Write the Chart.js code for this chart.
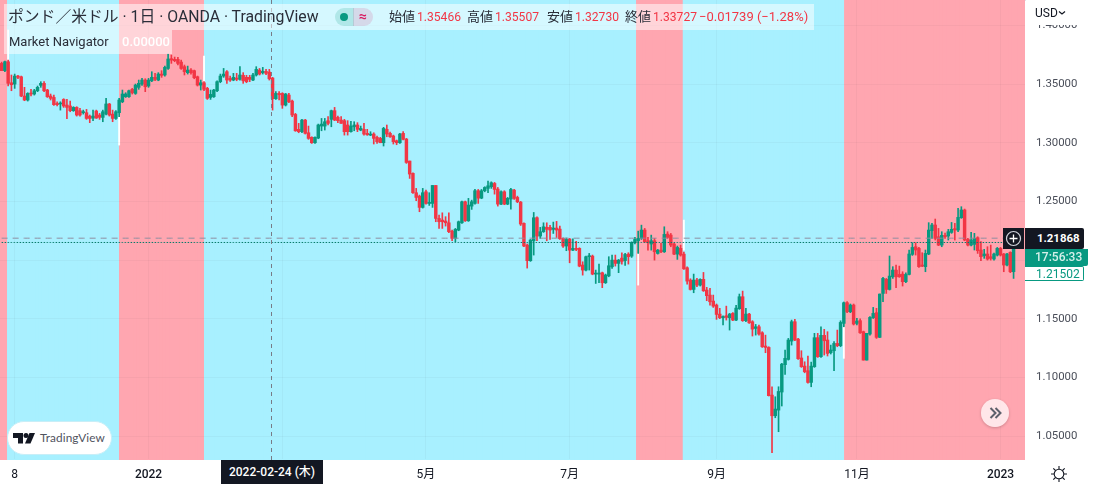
<!DOCTYPE html>
<html lang="ja"><head><meta charset="utf-8">
<script src="https://cdn.jsdelivr.net/npm/chart.js@4"></script>
<style>
html,body{margin:0;padding:0;background:#fff;overflow:hidden}
#wrap{position:relative;width:1093px;height:488px;font-family:Roboto,"Noto Sans CJK JP",sans-serif;color:#131722}
canvas{position:absolute;left:0;top:0}
.o{position:absolute;white-space:nowrap;box-sizing:border-box}
.r{color:#f23645;font-size:12.1px;margin-left:2px}
.h{top:4px;height:26px;line-height:26px;font-size:13px;font-family:Roboto,'Noto Sans CJK JP',sans-serif;color:#2a2e39}
</style></head><body>
<div id="wrap"><canvas id="c" width="1093" height="488"></canvas>
<div class="o" style="left:4px;top:4px;width:810px;height:26px;background:rgba(255,255,255,.52)"></div>
<div class="o" style="left:4px;top:30px;width:168px;height:24px;background:rgba(255,255,255,.52)"></div>
<div class="o" style="left:8px;top:4px;height:26px;line-height:25px;font-size:15.8px;font-family:Roboto,'Noto Sans CJK JP',sans-serif;color:#2a2e39">ポンド／米ドル · 1日 · OANDA · TradingView</div>
<div class="o" style="left:335px;top:8px;width:19px;height:18px;border-radius:9px 0 0 9px;background:rgba(8,153,129,.18)"><div class="o" style="left:5px;top:5px;width:8px;height:8px;border-radius:4px;background:#089981"></div></div>
<div class="o" style="left:353px;top:8px;width:20px;height:18px;border-radius:0 9px 9px 0;background:rgba(216,27,96,.14);color:#d81b60;font-size:14px;line-height:17px;text-align:center;font-weight:700">≈</div>
<div class="o h" style="left:389px">始値<span class="r">1.35466</span></div>
<div class="o h" style="left:467px">高値<span class="r">1.35507</span></div>
<div class="o h" style="left:547px">安値<span class="r">1.32730</span></div>
<div class="o h" style="left:625px">終値<span class="r">1.33727</span></div>
<div class="o" style="left:699px;top:4px;height:26px;line-height:26px;font-size:13px;color:#f23645">−0.01739 (−1.28%)</div>
<div class="o" style="left:9px;top:30px;height:24px;line-height:24px;font-size:13px;color:#2a2e39">Market Navigator</div>
<div class="o" style="left:122px;top:30px;height:24px;line-height:24px;font-size:13px;font-weight:500;color:#fff">0.00000</div>

<div class="o" style="left:1026px;top:0;width:67px;height:25px;background:#fff"></div>
<div class="o" style="left:1035px;top:5px;height:16px;line-height:16px;font-size:12px;color:#131722">USD</div>
<svg class="o" style="left:1058px;top:10px" width="8" height="6"><path d="M1 1.5l3 2.5 3-2.5" fill="none" stroke="#131722" stroke-width="1.2"/></svg>

<div class="o" style="left:1003px;top:228px;width:21px;height:21px;background:#131722"></div>
<svg class="o" style="left:1003px;top:228px" width="21" height="21"><circle cx="10.5" cy="10.5" r="7" fill="none" stroke="#d1d4dc" stroke-width="1.2"/><path d="M10.5 6.5v8M6.5 10.5h8" stroke="#fff" stroke-width="1.3"/></svg>
<div class="o" style="left:1025px;top:228px;width:59px;height:21px;line-height:21px;padding-left:12px;background:#131722;color:#fff;font-size:11.4px;font-weight:700;border-radius:0 2px 2px 0">1.21868</div>
<div class="o" style="left:1025px;top:249px;width:63px;height:17px;line-height:17px;padding-left:10px;background:#089981;color:#d6f0ea;font-size:12px;font-weight:500;border-radius:0 0 2px 0">17:56:33</div>
<div class="o" style="left:1025px;top:266px;width:59px;height:15px;line-height:14px;padding-left:11px;background:#fff;color:#089981;font-size:12px;border:1px solid #089981;border-left:0;border-radius:0 2px 2px 0">1.21502</div>

<div class="o" style="left:221px;top:460px;width:102px;height:24px;line-height:25px;background:#131722;color:#fff;font-size:12px;font-weight:500;text-align:center;font-family:Roboto,'Noto Sans CJK JP',sans-serif">2022-02-24 (木)</div>

<div class="o" style="left:7px;top:421px;width:105px;height:34px;background:#fff;border:1px solid #c8eef7;border-radius:17px"></div>
<svg class="o" style="left:13px;top:433px" width="22" height="12"><path d="M0 0h10v10.500h-5v-5.500h-5z" fill="#131722"/><circle cx="13" cy="2.500" r="2.500" fill="#131722"/><path d="M16.500 0h5.500l-4.500 10.500h-5.500z" fill="#131722"/></svg>
<div class="o" style="left:40px;top:430px;height:16px;line-height:16px;font-size:11.8px;color:#50535e;letter-spacing:.1px;font-family:Lato,Roboto,sans-serif">TradingView</div>

<div class="o" style="left:981px;top:399px;width:28px;height:28px;border-radius:14px;background:rgba(255,255,255,.72);box-shadow:0 1px 3px rgba(0,0,0,.2)"></div>
<svg class="o" style="left:981px;top:399px" width="28" height="28"><path d="M9.500 9l5 5-5 5M14.500 9l5 5-5 5" fill="none" stroke="#5d606b" stroke-width="2"/></svg>

<svg class="o" style="left:1050px;top:465px" width="18" height="18"><circle cx="9" cy="9" r="4.800" fill="none" stroke="#131722" stroke-width="1.100"/><path d="M9 1v3M9 14v3M1 9h3M14 9h3M3.300 3.300l2.200 2.200M12.500 12.500l2.200 2.200M3.300 14.700l2.200-2.200M12.500 5.500l2.200-2.200" stroke="#131722" stroke-width="1.100"/></svg>
</div>
<script>
const open=[
1.3676,1.3614,1.3690,1.3511,1.3500,1.3568,1.3562,1.3398,1.3364,1.3423,
1.3415,1.3443,1.3489,1.3506,1.3449,1.3398,1.3386,1.3335,1.3330,1.3369,
1.3321,1.3313,1.3273,1.3301,1.3273,1.3256,1.3256,1.3227,1.3210,1.3270,
1.3236,1.3216,1.3244,1.3330,1.3244,1.3207,1.3256,1.3349,1.3392,1.3392,
1.3455,1.3420,1.3472,1.3500,1.3534,1.3483,1.3528,1.3557,1.3534,1.3585,
1.3577,1.3633,1.3716,1.3710,1.3710,1.3687,1.3648,1.3597,1.3619,1.3614,
1.3562,1.3491,1.3511,1.3463,1.3386,1.3392,1.3443,1.3520,1.3568,1.3605,
1.3548,1.3534,1.3551,1.3540,1.3574,1.3557,1.3557,1.3534,1.3577,1.3619,
1.3597,1.3608,1.3602,1.3551,1.3375,1.3420,1.3420,1.3321,1.3406,1.3355,
1.3241,1.3114,1.3094,1.3193,1.3085,1.3046,1.3000,1.3040,1.3142,1.3142,
1.3188,1.3199,1.3273,1.3216,1.3193,1.3188,1.3151,1.3094,1.3136,1.3151,
1.3108,1.3114,1.3080,1.3065,1.3074,1.3046,1.3037,1.3000,1.3114,1.3080,
1.3057,1.3017,1.3000,1.3080,1.3031,1.2844,1.2739,1.2574,1.2545,1.2449,
1.2582,1.2483,1.2483,1.2636,1.2355,1.2341,1.2333,1.2318,1.2247,1.2185,
1.2256,1.2318,1.2497,1.2335,1.2460,1.2483,1.2591,1.2528,1.2591,1.2611,
1.2625,1.2653,1.2605,1.2477,1.2582,1.2477,1.2520,1.2596,1.2534,1.2494,
1.2313,1.2128,1.1995,1.2165,1.2361,1.2205,1.2242,1.2279,1.2279,1.2262,
1.2273,1.2264,1.2185,1.2120,1.2179,1.2085,1.2100,1.2100,1.1958,1.1915,
1.2029,1.2034,1.1881,1.1881,1.1892,1.1807,1.1866,1.1943,1.2000,1.1972,
1.2017,1.1996,1.2051,1.2034,1.2148,1.2165,1.2185,1.2256,1.2165,1.2137,
1.2165,1.2057,1.2085,1.2071,1.2222,1.2213,1.2137,1.2051,1.2100,1.2051,
1.1935,1.1830,1.1750,1.1830,1.1787,1.1836,1.1745,1.1702,1.1651,1.1617,
1.1540,1.1509,1.1526,1.1509,1.1546,1.1489,1.1586,1.1688,1.1484,1.1540,
1.1475,1.1418,1.1432,1.1381,1.1268,1.1256,1.0850,1.0674,1.0722,1.0876,
1.1109,1.1154,1.1310,1.1475,1.1327,1.1166,1.1097,1.1058,1.0958,1.1092,
1.1339,1.1177,1.1359,1.1319,1.1211,1.1228,1.1290,1.1271,1.1461,1.1637,
1.1560,1.1617,1.1461,1.1484,1.1390,1.1148,1.1370,1.1509,1.1552,1.1342,
1.1716,1.1836,1.1750,1.1858,1.1915,1.1878,1.1881,1.1816,1.1878,1.2049,
1.2114,1.2100,1.1958,1.1944,1.2052,1.2251,1.2299,1.2199,1.2128,1.2211,
1.2205,1.2236,1.2268,1.2256,1.2361,1.2427,1.2177,1.2128,1.2134,1.2191,
1.2086,1.2037,1.2052,1.2029,1.2009,1.2043,1.2100,1.2052,1.1958,1.2066,
1.1901];
const high=[
1.3687,1.3696,1.3704,1.3577,1.3585,1.3574,1.3568,1.3472,1.3426,1.3455,
1.3455,1.3483,1.3520,1.3520,1.3455,1.3415,1.3406,1.3349,1.3349,1.3375,
1.3369,1.3355,1.3307,1.3307,1.3293,1.3278,1.3284,1.3236,1.3278,1.3278,
1.3250,1.3278,1.3378,1.3335,1.3278,1.3273,1.3378,1.3449,1.3426,1.3449,
1.3463,1.3500,1.3534,1.3548,1.3545,1.3548,1.3605,1.3591,1.3597,1.3614,
1.3653,1.3756,1.3747,1.3730,1.3727,1.3704,1.3662,1.3653,1.3631,1.3619,
1.3568,1.3534,1.3520,1.3472,1.3449,1.3455,1.3528,1.3585,1.3633,1.3614,
1.3568,1.3591,1.3591,1.3648,1.3597,1.3574,1.3574,1.3591,1.3648,1.3633,
1.3642,1.3625,1.3625,1.3557,1.3435,1.3435,1.3426,1.3420,1.3420,1.3364,
1.3250,1.3165,1.3199,1.3199,1.3142,1.3051,1.3051,1.3159,1.3207,1.3207,
1.3222,1.3278,1.3301,1.3227,1.3222,1.3199,1.3188,1.3182,1.3179,1.3171,
1.3142,1.3165,1.3114,1.3094,1.3085,1.3057,1.3046,1.3131,1.3151,1.3091,
1.3065,1.3023,1.3080,1.3094,1.3037,1.2844,1.2744,1.2611,1.2554,1.2611,
1.2596,1.2574,1.2636,1.2636,1.2384,1.2403,1.2370,1.2403,1.2256,1.2270,
1.2333,1.2503,1.2503,1.2526,1.2511,1.2602,1.2602,1.2602,1.2625,1.2673,
1.2667,1.2662,1.2619,1.2591,1.2591,1.2534,1.2611,1.2602,1.2545,1.2500,
1.2318,1.2137,1.2176,1.2406,1.2369,1.2279,1.2318,1.2318,1.2296,1.2324,
1.2330,1.2290,1.2190,1.2188,1.2185,1.2182,1.2160,1.2105,1.1986,1.2034,
1.2057,1.2043,1.1915,1.1966,1.1898,1.1881,1.2029,1.2043,1.2043,1.2006,
1.2063,1.2057,1.2063,1.2156,1.2193,1.2247,1.2298,1.2270,1.2193,1.2213,
1.2185,1.2091,1.2142,1.2284,1.2242,1.2227,1.2142,1.2120,1.2128,1.2068,
1.1943,1.1841,1.1881,1.1844,1.1841,1.1895,1.1768,1.1759,1.1702,1.1626,
1.1589,1.1526,1.1608,1.1546,1.1552,1.1614,1.1711,1.1736,1.1589,1.1546,
1.1484,1.1452,1.1447,1.1390,1.1361,1.1262,1.0921,1.0836,1.0921,1.1120,
1.1234,1.1333,1.1489,1.1495,1.1333,1.1228,1.1134,1.1183,1.1131,1.1376,
1.1376,1.1432,1.1410,1.1390,1.1276,1.1305,1.1404,1.1483,1.1643,1.1646,
1.1626,1.1626,1.1504,1.1500,1.1395,1.1376,1.1518,1.1597,1.1589,1.1711,
1.1853,1.1844,1.2035,1.1944,1.1958,1.1949,1.1901,1.1892,1.2086,1.2148,
1.2148,1.2108,1.2063,1.2086,1.2319,1.2313,1.2350,1.2270,1.2242,1.2230,
1.2262,1.2321,1.2313,1.2441,1.2455,1.2435,1.2185,1.2236,1.2228,1.2199,
1.2157,1.2092,1.2114,1.2128,1.2060,1.2108,1.2108,1.2057,1.2057,1.2071,
1.2185];
const low=[
1.3614,1.3605,1.3483,1.3443,1.3463,1.3545,1.3392,1.3358,1.3355,1.3398,
1.3406,1.3435,1.3472,1.3435,1.3386,1.3364,1.3318,1.3313,1.3278,1.3301,
1.3205,1.3264,1.3267,1.3227,1.3227,1.3244,1.3199,1.3171,1.3188,1.3207,
1.3199,1.3179,1.3236,1.3227,1.3179,1.3199,1.3222,1.3341,1.3386,1.3386,
1.3415,1.3412,1.3455,1.3489,1.3435,1.3472,1.3520,1.3528,1.3528,1.3557,
1.3568,1.3625,1.3676,1.3690,1.3662,1.3625,1.3577,1.3585,1.3585,1.3545,
1.3483,1.3449,1.3443,1.3369,1.3369,1.3386,1.3435,1.3511,1.3557,1.3506,
1.3523,1.3528,1.3528,1.3534,1.3506,1.3511,1.3520,1.3528,1.3568,1.3577,
1.3585,1.3580,1.3534,1.3278,1.3369,1.3364,1.3293,1.3313,1.3341,1.3222,
1.3097,1.3085,1.3085,1.3074,1.3029,1.2994,1.2994,1.3034,1.3102,1.3108,
1.3151,1.3136,1.3188,1.3171,1.3165,1.3065,1.3065,1.3091,1.3102,1.3094,
1.3102,1.3065,1.3063,1.3060,1.2989,1.2994,1.3000,1.2972,1.3051,1.3046,
1.2989,1.2983,1.2994,1.3023,1.2824,1.2696,1.2568,1.2506,1.2412,1.2443,
1.2477,1.2466,1.2449,1.2327,1.2270,1.2270,1.2290,1.2233,1.2165,1.2156,
1.2250,1.2313,1.2330,1.2330,1.2432,1.2477,1.2483,1.2523,1.2582,1.2574,
1.2611,1.2562,1.2460,1.2472,1.2472,1.2472,1.2435,1.2517,1.2489,1.2295,
1.2114,1.1932,1.1989,1.2043,1.2165,1.2185,1.2236,1.2165,1.2176,1.2227,
1.2193,1.2176,1.2108,1.2080,1.1977,1.2080,1.2080,1.1943,1.1872,1.1907,
1.1915,1.1875,1.1801,1.1807,1.1765,1.1801,1.1858,1.1929,1.1949,1.1893,
1.1966,1.1955,1.1966,1.2023,1.2137,1.2057,1.2176,1.2151,1.2085,1.2085,
1.2000,1.2051,1.2063,1.2065,1.2185,1.2114,1.2046,1.2006,1.2034,1.1921,
1.1796,1.1745,1.1722,1.1773,1.1779,1.1733,1.1654,1.1617,1.1597,1.1495,
1.1501,1.1447,1.1489,1.1404,1.1484,1.1484,1.1580,1.1478,1.1475,1.1461,
1.1353,1.1361,1.1361,1.1256,1.1211,1.0842,1.0359,1.0657,1.0538,1.0757,
1.1026,1.1148,1.1276,1.1313,1.1154,1.1086,1.1040,1.0952,1.0921,1.1086,
1.1171,1.1171,1.1191,1.1183,1.1200,1.1058,1.1262,1.1262,1.1432,1.1552,
1.1552,1.1447,1.1447,1.1375,1.1148,1.1148,1.1361,1.1503,1.1333,1.1340,
1.1645,1.1716,1.1745,1.1844,1.1765,1.1853,1.1779,1.1807,1.1873,1.2040,
1.2043,1.1938,1.1944,1.1901,1.2046,1.2185,1.2171,1.2123,1.2114,1.2185,
1.2171,1.2228,1.2171,1.2242,1.2356,1.2165,1.2120,1.2120,1.2086,1.2057,
1.1995,1.2015,1.2000,1.2000,1.2000,1.2035,1.2035,1.1901,1.1950,1.1893,
1.1844];
const close=[
1.3614,1.3690,1.3506,1.3494,1.3568,1.3557,1.3398,1.3364,1.3420,1.3415,
1.3443,1.3472,1.3506,1.3443,1.3392,1.3378,1.3324,1.3324,1.3335,1.3313,
1.3301,1.3273,1.3301,1.3236,1.3236,1.3264,1.3207,1.3207,1.3227,1.3210,
1.3216,1.3264,1.3330,1.3236,1.3207,1.3264,1.3364,1.3415,1.3415,1.3443,
1.3426,1.3491,1.3506,1.3534,1.3477,1.3534,1.3557,1.3540,1.3585,1.3574,
1.3642,1.3713,1.3704,1.3699,1.3676,1.3633,1.3605,1.3619,1.3597,1.3554,
1.3491,1.3511,1.3455,1.3378,1.3412,1.3449,1.3520,1.3568,1.3585,1.3534,
1.3534,1.3557,1.3540,1.3577,1.3528,1.3520,1.3540,1.3577,1.3625,1.3585,
1.3608,1.3591,1.3545,1.3375,1.3420,1.3409,1.3321,1.3415,1.3349,1.3236,
1.3102,1.3094,1.3193,1.3080,1.3037,1.3000,1.3046,1.3151,1.3159,1.3179,
1.3165,1.3273,1.3193,1.3188,1.3165,1.3094,1.3094,1.3142,1.3151,1.3114,
1.3122,1.3074,1.3068,1.3074,1.3037,1.3009,1.3000,1.3122,1.3074,1.3051,
1.3009,1.3000,1.3074,1.3029,1.2832,1.2733,1.2574,1.2534,1.2449,1.2574,
1.2483,1.2489,1.2636,1.2355,1.2327,1.2327,1.2318,1.2242,1.2185,1.2262,
1.2327,1.2497,1.2335,1.2469,1.2497,1.2591,1.2528,1.2591,1.2619,1.2633,
1.2659,1.2602,1.2477,1.2582,1.2477,1.2526,1.2602,1.2526,1.2497,1.2307,
1.2120,1.1995,1.2171,1.2361,1.2205,1.2242,1.2284,1.2262,1.2256,1.2273,
1.2256,1.2182,1.2120,1.2176,1.2085,1.2100,1.2091,1.1949,1.1915,1.2029,
1.2037,1.1881,1.1889,1.1889,1.1807,1.1873,1.1952,1.2000,1.1972,1.2000,
1.1989,1.2048,1.2029,1.2151,1.2176,1.2185,1.2256,1.2156,1.2148,1.2165,
1.2071,1.2085,1.2071,1.2219,1.2193,1.2128,1.2051,1.2108,1.2043,1.1926,
1.1821,1.1750,1.1830,1.1787,1.1836,1.1739,1.1697,1.1645,1.1608,1.1537,
1.1509,1.1520,1.1512,1.1540,1.1489,1.1591,1.1688,1.1484,1.1540,1.1466,
1.1412,1.1432,1.1370,1.1262,1.1256,1.0845,1.0674,1.0731,1.0881,1.1114,
1.1163,1.1319,1.1475,1.1319,1.1160,1.1092,1.1049,1.0958,1.1097,1.1339,
1.1177,1.1359,1.1313,1.1205,1.1234,1.1290,1.1271,1.1469,1.1637,1.1560,
1.1617,1.1455,1.1481,1.1381,1.1148,1.1376,1.1512,1.1546,1.1342,1.1711,
1.1844,1.1750,1.1864,1.1915,1.1858,1.1858,1.1816,1.1878,1.2052,1.2108,
1.2086,1.1944,1.1949,1.2057,1.2256,1.2299,1.2185,1.2128,1.2211,1.2199,
1.2242,1.2262,1.2256,1.2364,1.2427,1.2171,1.2128,1.2171,1.2185,1.2080,
1.2029,1.2052,1.2009,1.2015,1.2052,1.2100,1.2043,1.1958,1.2052,1.1901,
1.2150];
// market-navigator zone changes: index where a zone starts, and its type
const zoneStart=[0,2,37,62,195,209,259];
const zoneBlue =[false,true,false,true,false,true,false];
// white indicator spikes at the zone changes
const spikeIndex=[2,36,62,195,209,258];
const spikeHigh=[1.3960,1.3236,1.3739,1.2057,1.2341,1.1432];
const spikeLow =[1.3704,1.2980,1.3477,1.1787,1.2085,1.1163];
const priceTicks=[1.05,1.10,1.15,1.20,1.25,1.30,1.35,1.40];
const gridIndex=[4,45,86,130,174,219,262,306];
const gridText=["8","2022","","5月","7月","9月","11月","2023"];
const crossPrice=1.21868, lastPrice=1.21502, crossIndex=83, slotCount=314;
const priceMin=1.0297, priceMax=1.4216;

const cats=Array.from({length:slotCount},(_,i)=>i);
const isBlue=i=>{let b=zoneBlue[0];zoneStart.forEach((s,k)=>{if(i>=s)b=zoneBlue[k]});return b};
const edgeInflate={37:1.77,61:1.6,259:1.4};
const UP='#089981',DOWN='#f23645';
const col=i=>i<open.length&&close[i]>=open[i]?UP:DOWN;
const crossLine={id:'crossLine',afterDatasetsDraw(ch){const c=ch.ctx,x=ch.scales.x.getPixelForValue(crossIndex),a=ch.chartArea;
 c.save();c.strokeStyle='#787b86';c.lineWidth=1;c.setLineDash([4,4]);c.beginPath();c.moveTo(Math.floor(x)-.5,a.top);c.lineTo(Math.floor(x)-.5,a.bottom);c.stroke();c.restore();}};
new Chart(document.getElementById('c'),{type:'bar',plugins:[crossLine],data:{labels:cats,datasets:[
 {label:'Zone up',grouped:false,order:11,data:cats.map(i=>isBlue(i)?[priceMin,priceMax]:null),backgroundColor:'#a8f0ff',barPercentage:1,categoryPercentage:1,inflateAmount:.5},
 {label:'Zone down',grouped:false,order:10,data:cats.map(i=>isBlue(i)?null:[priceMin,priceMax]),backgroundColor:'#ffa6b0',barPercentage:1,categoryPercentage:1,inflateAmount:c=>edgeInflate[c.dataIndex]||.5},
 {label:'Spike',grouped:false,order:5,barThickness:1.2,backgroundColor:'#ffffff',data:cats.map(i=>{const k=spikeIndex.indexOf(i);return k<0?null:[spikeLow[k],spikeHigh[k]]})},
 {label:'Wick',grouped:false,order:4,barThickness:1,data:open.map((_,i)=>[low[i],high[i]]),backgroundColor:open.map((_,i)=>col(i))},
 {label:'Body',grouped:false,order:3,barThickness:2.8,minBarLength:1,data:open.map((_,i)=>[open[i],close[i]]),backgroundColor:open.map((_,i)=>col(i))},
 {label:'Crosshair price',type:'line',order:2,data:cats.map(()=>crossPrice),borderColor:'#8f8ea0',borderWidth:1,borderDash:[6,5],pointRadius:0},
 {label:'Last price',type:'line',order:1,data:cats.map(()=>lastPrice),borderColor:'#067a68',borderWidth:1,borderDash:[1.5,1.5],pointRadius:0}
]},options:{responsive:false,animation:false,layout:{padding:0},
 plugins:{legend:{display:false},tooltip:{enabled:false}},
 scales:{
  x:{border:{display:true,color:'#e0e3eb',width:2},offset:true,
   grid:{z:1,offset:false,drawTicks:false,color:c=>gridIndex.includes(c.index)?'rgba(42,46,57,0.04)':'rgba(0,0,0,0)'},
   ticks:{autoSkip:false,maxRotation:0,minRotation:0,padding:8,color:'#131722',
    font:c=>({family:'Roboto,"Noto Sans CJK JP"',size:12,weight:(gridText[gridIndex.indexOf(c.index)]||'').length===4?'500':'400'}),
    callback:(v,i)=>{const k=gridIndex.indexOf(i);return k<0?'':gridText[k]}},
   afterFit(s){s.height=28;s.paddingLeft=0;s.paddingRight=0}},
  y:{position:'right',min:priceMin,max:priceMax,border:{display:false},
   afterBuildTicks(s){s.ticks=priceTicks.map(v=>({value:v}))},
   grid:{z:1,drawTicks:false,color:'rgba(42,46,57,0.04)'},
   ticks:{padding:11,color:'#4a4e59',font:{family:'Roboto',size:11.4},callback:v=>v.toFixed(5)},
   afterFit(s){s.width=68;s.paddingTop=0;s.paddingBottom=0}}
 }}});
</script></body></html>
